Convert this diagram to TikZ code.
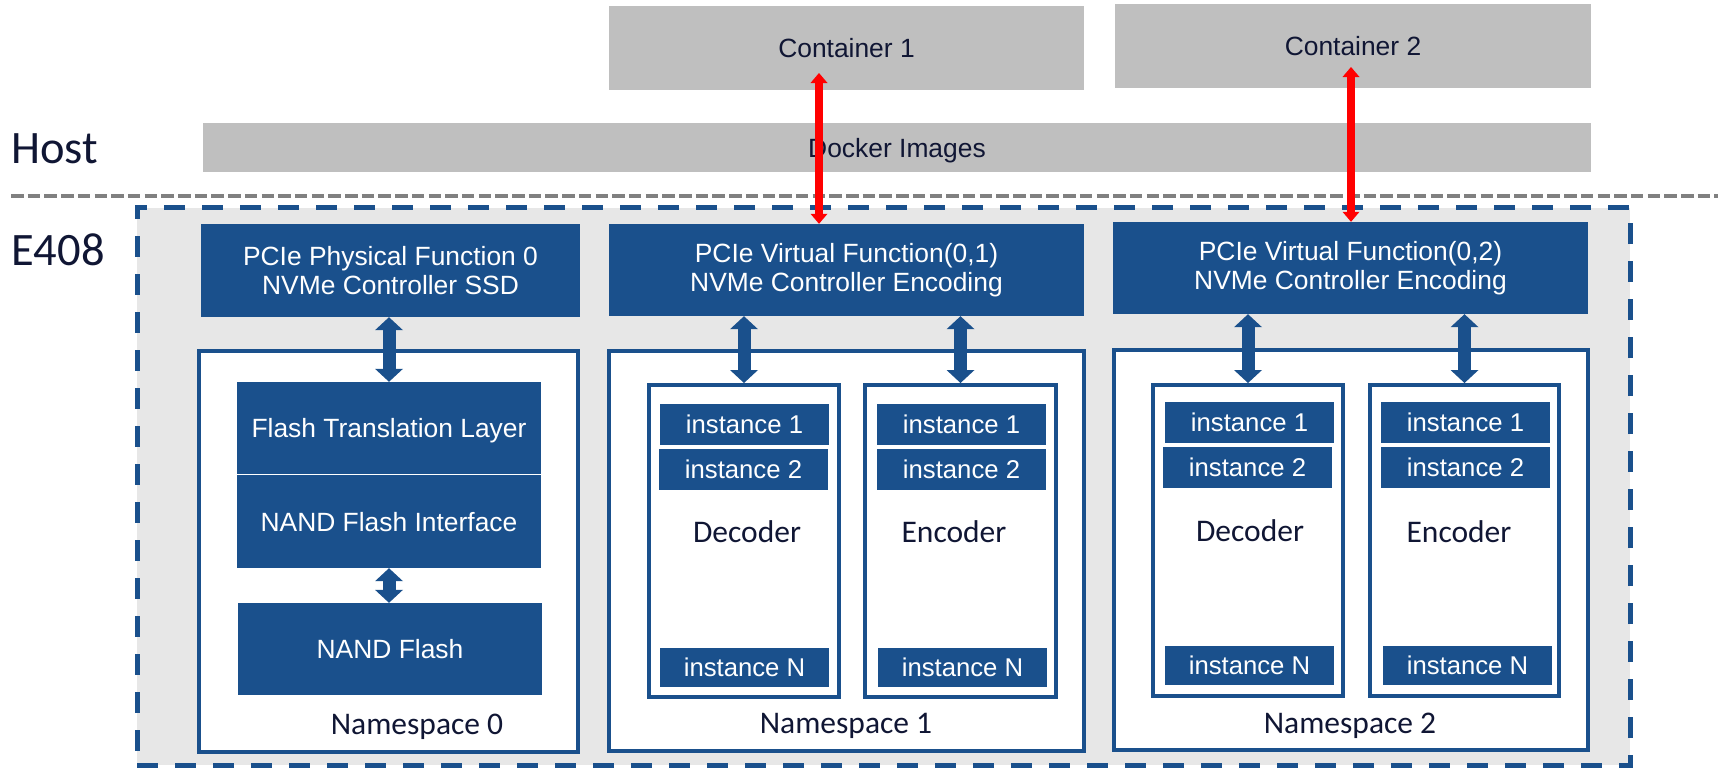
\documentclass[tikz,border=0pt]{standalone}
\usepackage{fontspec}
\setmainfont{Liberation Sans}
\newfontfamily\calfont{Carlito}
\usetikzlibrary{arrows.meta}
\definecolor{boxblue}{RGB}{26,80,140}
\definecolor{boxgray}{RGB}{191,191,191}
\definecolor{bggray}{RGB}{231,231,231}
\definecolor{dashgray}{RGB}{128,128,128}
\definecolor{navy}{RGB}{16,22,52}
\definecolor{arrred}{RGB}{255,0,0}
\begin{document}
\begin{tikzpicture}[x=1pt,y=-1pt,
  graybox/.style={fill=boxgray, inner sep=0pt, text=navy, text height=19pt, text depth=0pt,
    font=\fontsize{26.4}{29}\selectfont},
  bluebox/.style={fill=boxblue, inner sep=0pt, text=white, align=center,
    font=\fontsize{26.4}{29}\selectfont},
  blueone/.style={fill=boxblue, inner sep=0pt, text=white, text height=19pt, text depth=0pt,
    font=\fontsize{26.4}{29}\selectfont},
  instbox/.style={fill=boxblue, inner sep=0pt, text=white, minimum width=169pt, minimum height=41pt,
    text height=18.5pt, text depth=0pt, font=\fontsize{25.7}{28}\selectfont},
  calabel/.style={inner sep=0pt, text=navy, font=\calfont\fontsize{31.5}{34}\selectfont},
  sidelabel/.style={inner sep=0pt, text=navy, font=\calfont\fontsize{46.5}{50}\selectfont},
  frame/.style={draw=boxblue, fill=bggray, line width=5pt, dash pattern=on 21pt off 17pt, inner sep=0pt},
  hostline/.style={draw=dashgray, line width=4pt, dash pattern=on 12.5pt off 4.2pt},
  nsbox/.style={draw=boxblue, fill=white, line width=4.5pt, inner sep=0pt},
  codecbox/.style={draw=boxblue, fill=white, line width=4pt, inner sep=0pt},
  blockarrow/.style={draw=boxblue, line width=13pt,
    {Triangle[length=13pt,width=28pt,line width=0pt]}-{Triangle[length=13pt,width=28pt,line width=0pt]}},
  redarrow/.style={draw=arrred, line width=7.5pt,
    {Triangle[length=10pt,width=17pt,line width=0pt]}-{Triangle[length=10pt,width=17pt,line width=0pt]}}
]
\useasboundingbox (0,0) rectangle (1718,769);

% host side
\node[graybox, minimum width=475pt, minimum height=84pt] (cont1) at (846.5,48) {Container 1};
\node[graybox, minimum width=476pt, minimum height=84pt] (cont2) at (1353,46) {Container 2};
\node[graybox, minimum width=1388pt, minimum height=49pt] (docker) at (897,147.5) {Docker Images};
\node[sidelabel, anchor=base west] (host) at (11,163) {Host};
\draw[hostline] (11,196) -- (1718,196);

% E408 frame
\node[frame, minimum width=1493pt, minimum height=557.5pt] (e408frame) at (883.5,486.25) {};
\node[sidelabel, anchor=base west] (e408) at (11,265) {E408};

% functions
\node[bluebox, minimum width=379pt, minimum height=93pt] (pf0) at (390.5,270.5) {PCIe Physical Function 0\\NVMe Controller SSD};
\node[bluebox, minimum width=475pt, minimum height=92pt] (vf1) at (846.5,270) {PCIe Virtual Function(0,1)\\NVMe Controller Encoding};
\node[bluebox, minimum width=475pt, minimum height=92pt] (vf2) at (1350.5,268) {PCIe Virtual Function(0,2)\\NVMe Controller Encoding};

% namespaces
\node[nsbox, minimum width=379pt, minimum height=401pt] (ns0) at (388.5,551.5) {};
\node[nsbox, minimum width=475pt, minimum height=400pt] (ns1) at (846.5,551) {};
\node[nsbox, minimum width=474pt, minimum height=400pt] (ns2) at (1351,550) {};
\node[calabel, anchor=base] (ns0lab) at (417,734) {Namespace 0};
\node[calabel, anchor=base] (ns1lab) at (846,733) {Namespace 1};
\node[calabel, anchor=base] (ns2lab) at (1350,733) {Namespace 2};

% namespace 0 content
\node[blueone, minimum width=304pt, minimum height=92pt] (ftl) at (389,428) {Flash Translation Layer};
\node[blueone, minimum width=304pt, minimum height=93pt] (nfi) at (389,521.5) {NAND Flash Interface};
\node[blueone, minimum width=304pt, minimum height=92pt] (nand) at (390,649) {NAND Flash};

% namespace 1 content
\node[codecbox, minimum width=190pt, minimum height=312pt] (dec1) at (744,541) {};
\node[codecbox, minimum width=191pt, minimum height=312pt] (enc1) at (960.5,541) {};
\node[instbox] (d1i1) at (744.5,424.5) {instance 1};
\node[instbox] (d1i2) at (743.5,469.5) {instance 2};
\node[instbox, minimum height=39pt] (d1iN) at (744.5,667.5) {instance N};
\node[instbox] (e1i1) at (961.5,424.5) {instance 1};
\node[instbox] (e1i2) at (961.5,469.5) {instance 2};
\node[instbox, minimum height=39pt] (e1iN) at (962.5,667.5) {instance N};
\node[calabel, anchor=base] (dec1lab) at (747,542) {Decoder};
\node[calabel, anchor=base] (enc1lab) at (954,542) {Encoder};

% namespace 2 content
\node[codecbox, minimum width=190pt, minimum height=311pt] (dec2) at (1248,540.5) {};
\node[codecbox, minimum width=189pt, minimum height=311pt] (enc2) at (1464.5,540.5) {};
\node[instbox] (d2i1) at (1249.5,422.5) {instance 1};
\node[instbox] (d2i2) at (1247.5,467.5) {instance 2};
\node[instbox, minimum height=39pt] (d2iN) at (1249.5,665.5) {instance N};
\node[instbox] (e2i1) at (1465.5,422.5) {instance 1};
\node[instbox] (e2i2) at (1465.5,467.5) {instance 2};
\node[instbox, minimum height=39pt] (e2iN) at (1467.5,665.5) {instance N};
\node[calabel, anchor=base] (dec2lab) at (1250,541) {Decoder};
\node[calabel, anchor=base] (enc2lab) at (1459,542) {Encoder};

% block arrows
\draw[blockarrow] (pf0.south -| ftl.north) -- (ftl.north);
\draw[blockarrow] (nfi.south) -- (nfi.south |- nand.north);
\draw[blockarrow] (vf1.south -| dec1.north) -- (dec1.north);
\draw[blockarrow] (vf1.south -| enc1.north) -- (enc1.north);
\draw[blockarrow] (vf2.south -| dec2.north) -- (dec2.north);
\draw[blockarrow] (vf2.south -| enc2.north) -- (enc2.north);

% red arrows
\coordinate (r1) at (819,73);
\coordinate (r2) at (1351,67);
\draw[redarrow] (r1) -- (r1 |- vf1.north);
\draw[redarrow] (r2) -- (r2 |- vf2.north);
\end{tikzpicture}
\end{document}
